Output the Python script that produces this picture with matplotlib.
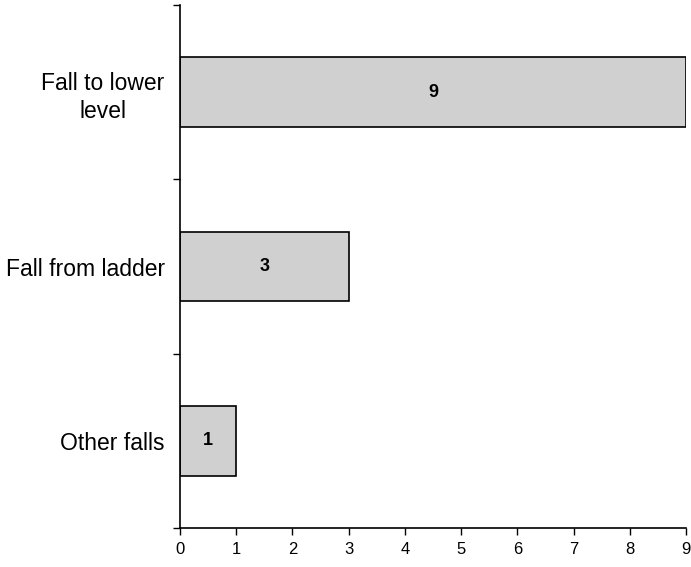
import matplotlib.pyplot as plt

# Data
categories = ["Fall to lower\nlevel", "Fall from ladder", "Other falls"]
counts = [9, 3, 1]
x_ticks = list(range(0, 10))

plt.rcParams['font.family'] = ['Liberation Sans', 'DejaVu Sans']

fig = plt.figure(figsize=(6.91, 5.67), dpi=100)
ax = fig.add_axes([0.2605, 0.0688, 0.7323, 0.9222])

pos = list(range(len(categories)))
bars = ax.barh(pos, counts, height=0.4, color='#d0d0d0', edgecolor='black', linewidth=1.2)

# value labels in the middle of each bar
for p, v in zip(pos, counts):
    ax.text(v / 2, p, str(v), ha='center', va='center', fontsize=13, fontweight='bold')

ax.set_ylim(len(categories) - 0.5, -0.5)
ax.set_xlim(0, 9)
ax.set_xticks(x_ticks)
ax.tick_params(axis='x', labelsize=12, length=5, width=1, pad=5)

ax.set_yticks(pos)
ax.set_yticklabels(categories, fontsize=16.5)
for lbl in ax.get_yticklabels():
    lbl.set_multialignment('center')
    lbl.set_linespacing(1.3)
ax.set_yticks([-0.5, 0.5, 1.5, 2.5], minor=True)
ax.tick_params(axis='y', which='major', length=0, pad=11)
ax.tick_params(axis='y', which='minor', length=5, width=1)

ax.spines['top'].set_visible(False)
ax.spines['right'].set_visible(False)
ax.spines['left'].set_linewidth(1.2)
ax.spines['bottom'].set_linewidth(1.2)

fig.savefig("out.png", dpi=100)
